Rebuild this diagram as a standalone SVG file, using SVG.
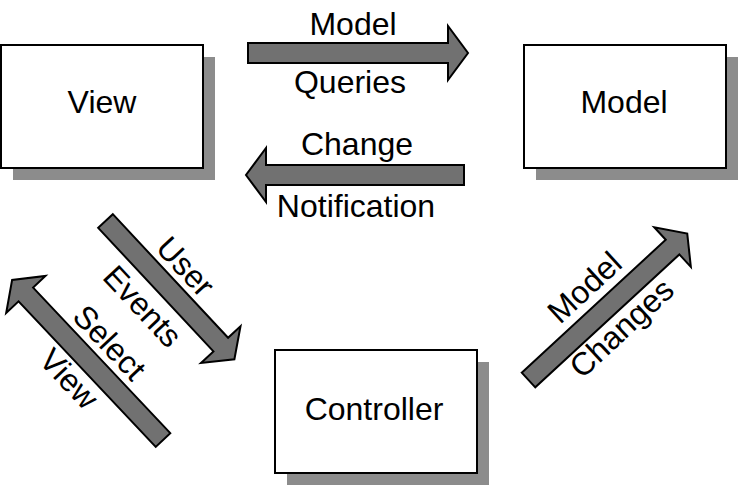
<svg xmlns="http://www.w3.org/2000/svg" xmlns:xlink="http://www.w3.org/1999/xlink" width="744" height="490" viewBox="0 0 744 490">
<style>
.box{fill:#fff;stroke:#000;stroke-width:2}
.shadow{fill:#8c8c8c}
.arrow{fill:#717171;stroke:#000;stroke-width:2;stroke-linejoin:miter}
text{font-family:"Liberation Sans",Arial,sans-serif;font-size:32px;fill:#000;text-anchor:middle}
</style>
<defs>
<path id="arr200" d="M0,-10 L200,-10 L200,-27 L220,0 L200,27 L200,10 L0,10 Z"/>
</defs>
<rect width="744" height="490" fill="#fff"/>
<g id="view">
<rect class="shadow" x="13" y="57" width="202" height="123"/>
<rect class="box" x="1" y="45" width="202" height="123"/>
<text x="102" y="113">View</text>
</g>
<g id="model">
<rect class="shadow" x="536" y="57" width="202" height="123"/>
<rect class="box" x="524" y="45" width="202" height="123"/>
<text x="624" y="113">Model</text>
</g>
<g id="controller">
<rect class="shadow" x="287" y="362" width="202" height="123"/>
<rect class="box" x="275" y="350" width="202" height="123"/>
<text x="374" y="420">Controller</text>
</g>
<g id="connectors">
<g id="model-queries">
<path class="arrow" transform="translate(248,53)" d="M0,-10 L200,-10 L200,-27 L220,0 L200,27 L200,10 L0,10 Z"/>
<text x="353" y="35">Model</text>
<text x="350" y="93">Queries</text>
</g>
<g id="change-notification">
<path class="arrow" transform="translate(464,175) rotate(180)" d="M0,-10 L198,-10 L198,-27 L218,0 L198,27 L198,10 L0,10 Z"/>
<text x="357" y="155">Change</text>
<text x="356" y="217">Notification</text>
</g>
<g id="user-events">
<path class="arrow" transform="translate(105.5,221) rotate(47)" d="M0,-10 L169,-10 L169,-27 L189,0 L169,27 L169,10 L0,10 Z"/>
<text transform="translate(177.5,274) rotate(47)">User</text>
<text transform="translate(134.6,313.7) rotate(47)">Events</text>
</g>
<g id="select-view">
<path class="arrow" transform="translate(163,440) rotate(226.7)" d="M0,-10 L200,-10 L200,-27 L220,0 L200,27 L200,10 L0,10 Z"/>
<text transform="translate(101.5,350) rotate(46.7)">Select</text>
<text transform="translate(61,386.4) rotate(46.7)">View</text>
</g>
<g id="model-changes">
<path class="arrow" transform="translate(528.5,380) rotate(-42.7)" d="M0,-10 L196,-10 L196,-27 L216,0 L196,27 L196,10 L0,10 Z"/>
<text transform="translate(592,295.4) rotate(-42.7)">Model</text>
<text transform="translate(629,336.2) rotate(-42.7)">Changes</text>
</g>
</g>
</svg>
